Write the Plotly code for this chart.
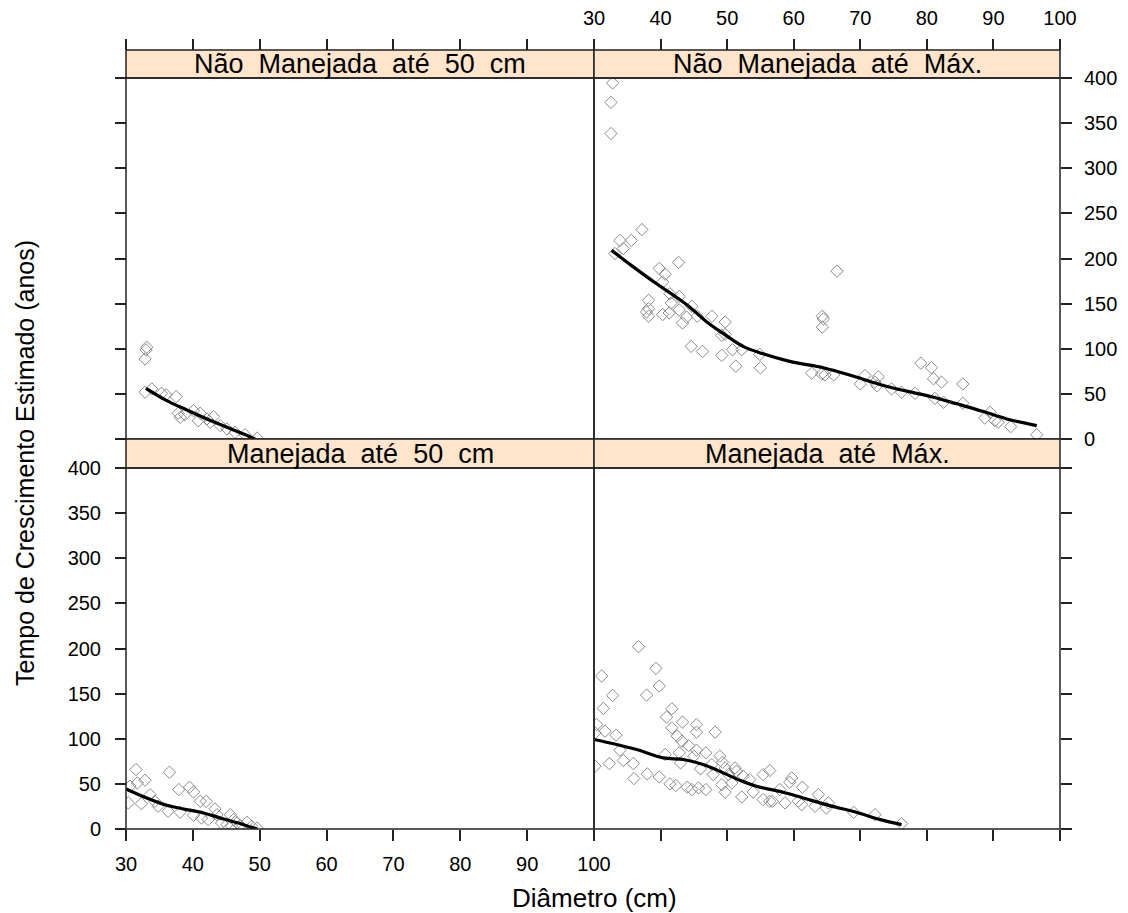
import plotly.graph_objects as go

# ---------------- data ----------------
panel_titles = ["Não  Manejada  até  50  cm", "Não  Manejada  até  Máx.",
                "Manejada  até  50  cm", "Manejada  até  Máx."]

x_ticks = [30, 40, 50, 60, 70, 80, 90, 100]
y_ticks = [0, 50, 100, 150, 200, 250, 300, 350, 400]

# Não Manejada até 50 cm
nm50_x = [32.85, 33.1, 33.0, 32.85, 33.85, 35.3, 36.0, 37.5, 37.8, 38.1, 40.1, 41.1, 40.8,
          43.1, 42.6, 45.1, 46.3, 47.8, 49.6, 38.8, 42.1, 44.1]
nm50_y = [88.7, 101.7, 98.7, 51.8, 55.5, 50.6, 49.0, 47.0, 28.5, 24.0, 31.4, 28.5, 20.3,
          24.8, 18.5, 11.1, 7.4, 4.8, 1.1, 27.0, 22.2, 14.8]
nm50_fit_x = [33.0, 36.1, 39.1, 42.1, 45.1, 47.6, 49.3]
nm50_fit_y = [56.2, 42.5, 32.2, 22.2, 13.0, 5.5, 0.0]

# Não Manejada até Máx.
nmmax_x = [32.8, 32.55, 32.55, 37.2, 33.9, 35.6, 34.4, 33.15, 42.7, 39.8, 40.7, 40.3, 66.5,
           38.2, 38.2, 38.2, 37.9, 41.4, 42.8, 41.6, 42.8, 40.3, 41.3, 44.7, 43.9, 43.3,
           45.5, 47.7, 49.7, 49.2, 49.7, 44.6, 46.3, 49.2, 50.8, 52.2, 51.3, 54.9, 55.0,
           64.3, 64.45, 64.3, 62.7, 64.2, 64.7, 66.0, 70.0, 70.7, 72.2, 72.5, 72.7, 74.7,
           76.2, 78.2, 79.1, 80.7, 81.0, 82.2, 81.2, 82.5, 85.4, 85.4, 88.7, 89.5, 90.2,
           90.7, 92.6, 96.5]
nmmax_y = [394.5, 373.0, 338.5, 232.0, 220.0, 220.0, 211.0, 205.5, 195.6, 189.0, 182.6, 174.0, 186.0,
           153.7, 144.5, 136.0, 140.7, 161.0, 158.0, 150.7, 143.0, 137.8, 139.6, 147.0, 135.0, 128.5,
           136.0, 136.0, 129.6, 114.8, 116.0, 102.6, 97.0, 92.6, 98.9, 98.9, 80.7, 93.7, 78.9,
           136.0, 133.0, 124.0, 73.0, 72.0, 71.0, 71.0, 61.0, 70.4, 63.0, 59.0, 69.0, 55.5,
           51.9, 50.7, 84.0, 79.0, 66.7, 63.0, 45.0, 40.7, 61.0, 39.6, 23.3, 29.6, 20.4,
           18.5, 13.7, 4.8]
nmmax_fit_x = [32.65, 35.9, 39.4, 42.4, 44.4, 46.9, 49.4, 52.4, 55.4, 59.4, 64.45, 66.95,
               69.5, 73.5, 77.0, 81.0, 84.5, 88.5, 92.0, 96.5]
nmmax_fit_y = [209.0, 190.7, 172.0, 157.0, 146.0, 130.0, 117.0, 102.6, 94.4, 86.0, 79.0, 74.0,
               68.5, 59.3, 53.0, 46.3, 39.0, 30.4, 22.2, 14.8]

# Manejada até 50 cm
m50_x = [31.5, 32.85, 31.7, 30.6, 30.35, 32.3, 33.6, 34.3, 36.5, 34.8, 36.3, 38.1, 37.9, 39.5,
         40.1, 40.1, 41.1, 42.0, 41.3, 42.3, 43.3, 43.6, 44.3, 45.6, 46.1, 45.1, 47.1, 48.1,
         48.8, 49.6, 45.8, 46.6]
m50_y = [65.9, 54.0, 51.0, 47.4, 28.9, 28.1, 38.0, 30.7, 62.9, 25.2, 19.6, 18.5, 43.7, 46.3,
         41.0, 15.2, 30.7, 30.7, 12.2, 10.4, 22.2, 15.9, 6.7, 15.9, 10.4, 4.8, 3.7, 7.4,
         3.0, 1.1, 3.0, 6.7]
m50_fit_x = [30.0, 33.1, 36.1, 38.6, 41.6, 44.6, 47.6, 49.6]
m50_fit_y = [44.4, 34.4, 26.3, 22.2, 17.8, 11.1, 4.8, 0.0]

# Manejada até Máx.
mmax_x = [31.15, 31.4, 32.8, 30.4, 30.15, 30.15, 31.65, 33.3, 33.9, 32.3, 34.4, 35.9, 36.0,
          36.7, 37.9, 38.0, 39.3, 39.8, 39.8, 40.9, 41.7, 41.7, 40.7, 42.5, 42.8, 43.3, 43.2,
          44.2, 41.4, 42.3, 43.0, 44.0, 44.7, 45.4, 45.4, 45.4, 45.7, 45.0, 46.0, 46.8, 46.8,
          48.2, 47.7, 47.9, 48.9, 49.3, 49.7, 49.2, 49.7, 50.2, 50.7, 51.2, 51.4, 52.2, 52.4,
          53.4, 53.9, 55.4, 55.4, 56.4, 56.4, 56.8, 57.9, 58.7, 59.4, 59.7, 60.7, 61.2, 61.3,
          63.2, 63.7, 64.9, 65.2, 69.0, 72.2, 76.2]
mmax_y = [169.5, 133.6, 148.0, 115.8, 106.6, 69.6, 108.4, 104.0, 87.3, 72.5, 75.9, 72.5, 55.9,
          202.0, 148.4, 61.0, 178.0, 158.4, 57.7, 124.0, 133.2, 112.1, 82.5, 102.9, 84.4, 118.4, 97.3,
          92.5, 50.0, 48.1, 73.3, 46.3, 43.7, 115.8, 107.3, 87.3, 45.5, 80.7, 66.6, 84.4, 43.7,
          107.3, 71.4, 60.3, 80.7, 74.0, 67.7, 49.2, 40.7, 60.3, 51.0, 67.7, 64.0, 35.5, 58.5,
          54.8, 41.0, 60.3, 32.6, 64.8, 30.7, 30.7, 43.7, 28.9, 51.8, 56.6, 30.7, 27.0, 46.3,
          25.2, 38.1, 23.3, 28.9, 18.5, 15.9, 5.9]
mmax_fit_x = [30.0, 33.4, 36.4, 40.4, 43.4, 46.4, 49.4, 51.9, 54.4, 58.4, 61.4, 65.4, 69.4,
              73.0, 76.2]
mmax_fit_y = [99.2, 93.6, 88.0, 78.8, 77.0, 71.4, 62.2, 54.0, 47.4, 40.7, 34.4, 25.9, 18.5,
              10.4, 4.8]

points = [(nm50_x, nm50_y), (nmmax_x, nmmax_y), (m50_x, m50_y), (mmax_x, mmax_y)]
fits = [(nm50_fit_x, nm50_fit_y), (nmmax_fit_x, nmmax_fit_y),
        (m50_fit_x, m50_fit_y), (mmax_fit_x, mmax_fit_y)]

# ---------------- layout geometry (screen pixels; page body has 8px margin) ----------------
OFF = 8
W, H = 1128 - OFF, 913 - OFF
PX0, PX1, PY0, PY1 = 126, 1060, 50, 829          # plotting block in screen px
ML, MR = PX0 - OFF, (OFF + W) - PX1
MT, MB = PY0 - OFF, (OFF + H) - PY1
PW, PH = PX1 - PX0, PY1 - PY0

def fx(px):
    return (px - PX0) / PW

def fy(py):
    return (PY1 - py) / PH

xL = [fx(126), fx(594)]
xR = [fx(594), fx(1060)]
yB = [fy(829), fy(468)]
stripB = [fy(468), fy(439)]
yT = [fy(439), fy(78)]
stripT = [fy(78), fy(50)]

FONT = "Liberation Sans, Arial, sans-serif"
AX = "#222222"

fig = go.Figure()
names = ["", "2", "3", "4"]
for i, ((px_, py_), (lx, ly)) in enumerate(zip(points, fits)):
    xa, ya = "x" + names[i], "y" + names[i]
    fig.add_trace(go.Scatter(x=px_, y=py_, mode="markers", xaxis=xa, yaxis=ya,
                             marker=dict(symbol="diamond-open", size=9.5, color="#8a8a8a",
                                         line=dict(width=1, color="#8a8a8a")),
                             showlegend=False, hoverinfo="x+y"))
    fig.add_trace(go.Scatter(x=lx, y=ly, mode="lines", xaxis=xa, yaxis=ya,
                             line=dict(color="black", width=3.2, shape="spline"),
                             showlegend=False, hoverinfo="skip"))

common = dict(showgrid=False, zeroline=False, showline=False, ticks="outside",
              ticklen=11, tickwidth=1.5, tickcolor=AX, automargin=False,
              tickfont=dict(family=FONT, size=20, color="black"))
xcommon = dict(common, range=[30, 100], tickvals=x_ticks, ticklabelstandoff=6)
ycommon = dict(common, range=[0, 400], tickvals=y_ticks)

fig.update_layout(
    xaxis=dict(xcommon, domain=xL, anchor="free", position=1, side="top",
               showticklabels=False),
    xaxis2=dict(xcommon, domain=xR, anchor="free", position=1, side="top",
                showticklabels=True),
    xaxis3=dict(xcommon, domain=xL, anchor="free", position=0, side="bottom",
                showticklabels=True),
    xaxis4=dict(xcommon, domain=xR, anchor="free", position=0, side="bottom",
                showticklabels=False),
    yaxis=dict(ycommon, domain=yT, anchor="free", position=0, side="left",
               showticklabels=False),
    yaxis2=dict(ycommon, domain=yT, anchor="free", position=1, side="right",
                showticklabels=True, ticklabelstandoff=8),
    yaxis3=dict(ycommon, domain=yB, anchor="free", position=0, side="left",
                showticklabels=True, ticklabelstandoff=10),
    yaxis4=dict(ycommon, domain=yB, anchor="free", position=1, side="right",
                showticklabels=False),
)

shapes = []
annotations = []
panels = [(xL, yT, stripT), (xR, yT, stripT), (xL, yB, stripB), (xR, yB, stripB)]
for title, (xd, yd, sd) in zip(panel_titles, panels):
    shapes.append(dict(type="rect", xref="paper", yref="paper", x0=xd[0], x1=xd[1],
                       y0=sd[0], y1=sd[1], fillcolor="#FFE5CC",
                       line=dict(color=AX, width=1.5), layer="above"))
    shapes.append(dict(type="rect", xref="paper", yref="paper", x0=xd[0], x1=xd[1],
                       y0=yd[0], y1=yd[1], line=dict(color=AX, width=1.5), layer="above"))
    annotations.append(dict(text=title.replace("  ", "\u00a0 "), xref="paper", yref="paper",
                            x=(xd[0] + xd[1]) / 2, y=(sd[0] + sd[1]) / 2,
                            xanchor="center", yanchor="middle", showarrow=False,
                            font=dict(family=FONT, size=27, color="black")))

annotations.append(dict(text="Diâmetro (cm)", xref="paper", yref="paper",
                        x=fx(594), y=fy(898), xanchor="center", yanchor="middle",
                        showarrow=False, font=dict(family=FONT, size=26, color="black")))
annotations.append(dict(text="Tempo de Crescimento Estimado (anos)", xref="paper",
                        yref="paper", x=fx(25), y=fy(463), xanchor="center",
                        yanchor="middle", textangle=-90, showarrow=False,
                        font=dict(family=FONT, size=25, color="black")))

fig.update_layout(width=W, height=H, margin=dict(l=ML, r=MR, t=MT, b=MB, autoexpand=False),
                  paper_bgcolor="white", plot_bgcolor="white",
                  shapes=shapes, annotations=annotations, showlegend=False,
                  font=dict(family=FONT, color="black"))

fig.write_html("out.html")
